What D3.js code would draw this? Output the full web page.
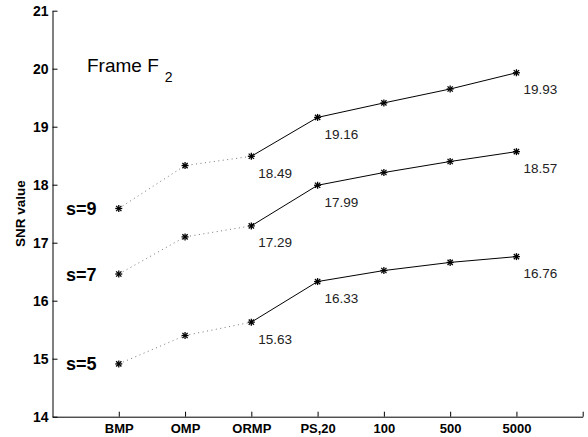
<!DOCTYPE html>
<html>
<head>
<meta charset="utf-8">
<script src="https://cdn.jsdelivr.net/npm/d3@7"></script>
<style>
  body { margin: 0; background: #fff; }
  svg { display: block; font-family: "Liberation Sans", Arial, Helvetica, sans-serif; }
</style>
</head>
<body>
<div id="chart"></div>
<script>
// categories on the x axis (positions 1..7)
var categories = ["BMP", "OMP", "ORMP", "PS,20", "100", "500", "5000"];
var yTicks = [14, 15, 16, 17, 18, 19, 20, 21];

// SNR values per sparsity level
var s9 = [17.59, 18.33, 18.49, 19.16, 19.41, 19.65, 19.93];
var s7 = [16.46, 17.10, 17.29, 17.99, 18.21, 18.40, 18.57];
var s5 = [14.91, 15.40, 15.63, 16.33, 16.52, 16.66, 16.76];
var seriesNames = ["s=9", "s=7", "s=5"];

var series = [s9, s7, s5];

var W = 588, H = 437;
var margin = {top: 10.7, right: 5, bottom: 20, left: 52.5};

var svg = d3.select("#chart")
  .append("svg")
    .attr("width", W)
    .attr("height", H);

var x = d3.scaleLinear()
  .domain([0, 8])
  .range([margin.left, 582.7]);

var y = d3.scaleLinear()
  .domain([14, 21])
  .range([416.7, margin.top]);

// x axis
var xAxis = svg.append("g")
  .attr("transform", "translate(0," + y(14) + ")")
  .call(d3.axisBottom(x)
    .tickValues(d3.range(0, 9))
    .tickSizeInner(-5)
    .tickSizeOuter(0)
    .tickFormat(function(d) { return d >= 1 && d <= 7 ? categories[d - 1] : ""; }));
xAxis.selectAll("text")
  .attr("y", 16.5)
  .attr("dy", null)
  .style("font-size", "13px")
  .style("font-weight", "bold")
  .attr("fill", "#000");

// y axis
var yAxis = svg.append("g")
  .attr("transform", "translate(" + x(0) + ",0)")
  .call(d3.axisLeft(y)
    .tickValues(yTicks)
    .tickSizeInner(-5)
    .tickSizeOuter(0)
    .tickFormat(d3.format("d")));
yAxis.selectAll("text")
  .attr("x", -4)
  .style("font-size", "14px")
  .style("font-weight", "bold")
  .attr("fill", "#000");

svg.selectAll(".domain, .tick line").attr("stroke", "#000").attr("stroke-width", 1);
xAxis.select(".tick:first-of-type line").remove();

// y label
svg.append("text")
  .attr("transform", "translate(25," + ((y(14) + y(21)) / 2) + ") rotate(-90)")
  .attr("text-anchor", "middle")
  .style("font-size", "13.5px")
  .style("font-weight", "bold")
  .text("SNR value");

// title
var title = svg.append("text")
  .attr("x", 87)
  .attr("y", 72.3)
  .style("font-size", "19px");
title.append("tspan").text("Frame F");
title.append("tspan")
  .attr("dy", 10)
  .attr("dx", 6)
  .style("font-size", "14px")
  .text("2");

var line = d3.line()
  .x(function(d) { return x(d[0]); })
  .y(function(d) { return y(d[1]); });

function star(g, cx, cy) {
  var r = 3.5, rd = r * 0.75;
  var segs = [[-r, 0, r, 0], [0, -r, 0, r], [-rd, -rd, rd, rd], [-rd, rd, rd, -rd]];
  segs.forEach(function(s) {
    g.append("line")
      .attr("x1", cx + s[0]).attr("y1", cy + s[1])
      .attr("x2", cx + s[2]).attr("y2", cy + s[3])
      .attr("stroke", "#000")
      .attr("stroke-width", 1.3);
  });
}

series.forEach(function(vals, k) {
  var pts = vals.map(function(v, i) { return [i + 1, v]; });
  var g = svg.append("g");

  // dotted part: BMP -> OMP -> ORMP
  g.append("path")
    .attr("d", line(pts.slice(0, 3)))
    .attr("fill", "none")
    .attr("stroke", "#777")
    .attr("stroke-width", 1)
    .attr("stroke-dasharray", "1,3.5");

  // solid part: ORMP onward
  g.append("path")
    .attr("d", line(pts.slice(2)))
    .attr("fill", "none")
    .attr("stroke", "#000")
    .attr("stroke-width", 1);

  pts.forEach(function(p) { star(g, x(p[0]), y(p[1])); });

  // value labels at ORMP, PS,20 and 5000
  [2, 3, 6].forEach(function(i) {
    g.append("text")
      .attr("x", x(pts[i][0]) + 7)
      .attr("y", y(pts[i][1]) + 21.5)
      .style("font-size", "13.5px")
      .attr("fill", "#222")
      .text(d3.format(".2f")(pts[i][1]));
  });

  // series name
  g.append("text")
    .attr("x", 66)
    .attr("y", y(pts[0][1]) + 6.5)
    .style("font-size", "18px")
    .style("font-weight", "bold")
    .text(seriesNames[k]);
});
</script>
</body>
</html>
